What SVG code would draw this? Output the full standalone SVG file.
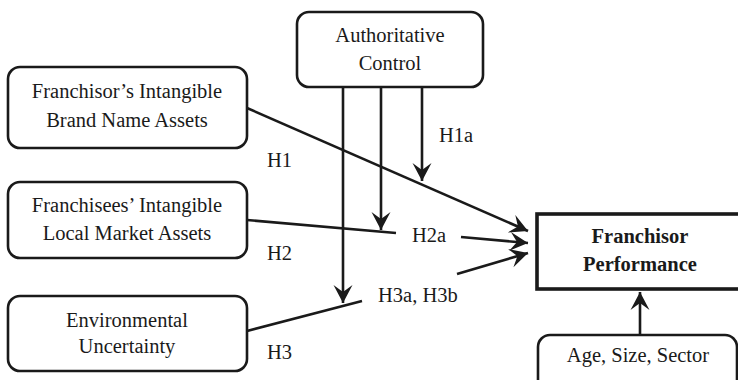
<svg xmlns="http://www.w3.org/2000/svg" width="738" height="380" viewBox="0 0 738 380">
<style>
.box{fill:#fff;stroke:#1a1a1a;stroke-width:2.6}
.pbox{fill:#fff;stroke:#1a1a1a;stroke-width:3.6}
.t{font-family:"Liberation Serif","Times New Roman",serif;font-size:20.5px;fill:#1a1a1a;text-anchor:middle}
.b{font-weight:bold}
.l{font-family:"Liberation Serif","Times New Roman",serif;font-size:20.5px;fill:#1a1a1a}
.c{fill:none;stroke:#1a1a1a;stroke-width:2.6}
</style>
<defs>
<marker id="ah" markerUnits="userSpaceOnUse" markerWidth="24" markerHeight="24" viewBox="-20 -12 24 24" refX="0" refY="0" orient="auto" overflow="visible">
<path d="M0,0 L-18,-9.5 L-11,0 L-18,9.5 Z" fill="#1a1a1a"/>
</marker>
</defs>
<rect width="738" height="380" fill="#fff"/>
<g id="connectors">
<line class="c" x1="247" y1="108" x2="528" y2="231" marker-end="url(#ah)"/>
<line class="c" x1="247" y1="220" x2="396" y2="233"/>
<line class="c" x1="461" y1="237" x2="528" y2="243" marker-end="url(#ah)"/>
<line class="c" x1="247" y1="331" x2="362" y2="301"/>
<line class="c" x1="457" y1="274" x2="528" y2="253" marker-end="url(#ah)"/>
<line class="c" x1="343" y1="87" x2="343" y2="303" marker-end="url(#ah)"/>
<line class="c" x1="381" y1="87" x2="381" y2="230" marker-end="url(#ah)"/>
<line class="c" x1="422" y1="87" x2="422" y2="181" marker-end="url(#ah)"/>
<line class="c" x1="640" y1="335" x2="640" y2="292" marker-end="url(#ah)"/>
</g>
<g id="labels">
<text class="l" x="267" y="167">H1</text>
<text class="l" x="267" y="260">H2</text>
<text class="l" x="267" y="359">H3</text>
<text class="l" x="439" y="142">H1a</text>
<text class="l" x="412" y="242">H2a</text>
<text class="l" x="378" y="302">H3a, H3b</text>
</g>
<g id="authoritative">
<rect class="box" x="297" y="12" width="186" height="75" rx="12"/>
<text class="t" x="390" y="42">Authoritative</text>
<text class="t" x="390" y="70">Control</text>
</g>
<g id="brand">
<rect class="box" x="8" y="67" width="239" height="81" rx="12"/>
<text class="t" x="127" y="98">Franchisor’s Intangible</text>
<text class="t" x="127" y="127">Brand Name Assets</text>
</g>
<g id="local">
<rect class="box" x="8" y="182" width="239" height="76" rx="12"/>
<text class="t" x="127" y="212">Franchisees’ Intangible</text>
<text class="t" x="127" y="240">Local Market Assets</text>
</g>
<g id="environment">
<rect class="box" x="8" y="296" width="239" height="75" rx="12"/>
<text class="t" x="127" y="327">Environmental</text>
<text class="t" x="127" y="353">Uncertainty</text>
</g>
<g id="performance">
<rect class="pbox" x="537" y="214" width="204" height="75"/>
<text class="t b" x="640" y="243">Franchisor</text>
<text class="t b" x="640" y="271">Performance</text>
</g>
<g id="controls">
<rect class="box" x="538" y="335" width="199" height="60" rx="12"/>
<text class="t" x="638" y="362">Age, Size, Sector</text>
</g>
</svg>
